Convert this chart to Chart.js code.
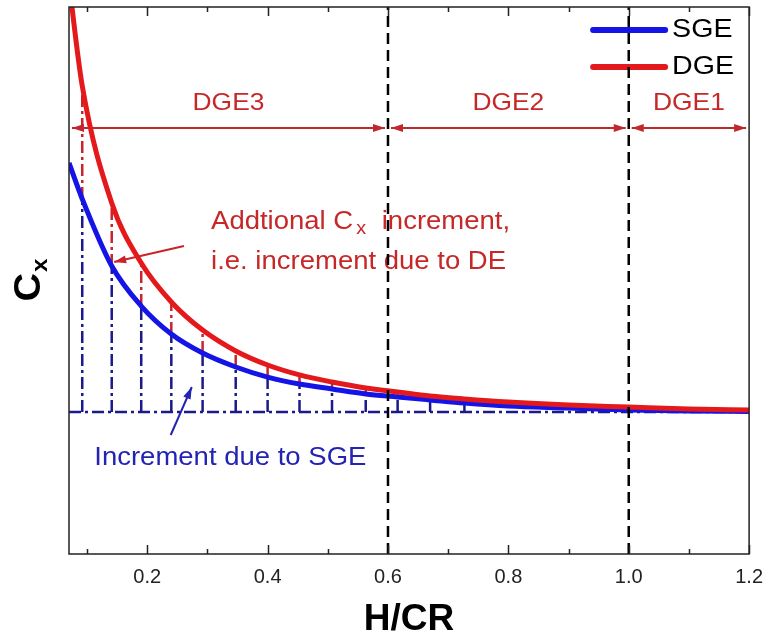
<!DOCTYPE html>
<html>
<head>
<meta charset="utf-8">
<title>Cx vs H/CR</title>
<script src="https://cdn.jsdelivr.net/npm/chart.js@4.4.1/dist/chart.umd.min.js"></script>
<style>
  html, body { margin: 0; padding: 0; background: #fff; }
  #wrap { width: 763px; height: 644px; }
</style>
</head>
<body>
<div id="wrap"><canvas id="cxChart" width="763" height="644"></canvas></div>
<script>
// H/CR sample points
const hcr = [0.07, 0.092, 0.141, 0.19, 0.24, 0.292, 0.347, 0.40, 0.453, 0.507, 0.563, 0.616, 0.67, 0.727, 0.80, 0.90, 1.0, 1.1, 1.2];
// Cx (baseline without ground effect = 1)
const sgeCx = [2.754, 2.5, 2.028, 1.746, 1.549, 1.415, 1.317, 1.246, 1.197, 1.162, 1.127, 1.106, 1.085, 1.063, 1.042, 1.028, 1.014, 1.007, 1.004];
const dgeCx = [4.021, 3.296, 2.472, 2.049, 1.775, 1.577, 1.43, 1.331, 1.261, 1.211, 1.169, 1.141, 1.113, 1.092, 1.07, 1.049, 1.035, 1.021, 1.014];
// which samples get the dash-dot increment markers
const markerIdx = [1, 2, 3, 4, 5, 6, 7, 8, 9, 10, 11, 12, 13];
const cxFree = 1.0;
const regionEdges = [0.07, 0.6, 1.0, 1.2];
const regionNames = ['DGE3', 'DGE2', 'DGE1'];
const boundaryLines = [0.6, 1.0];
const majorTicks = [0.2, 0.4, 0.6, 0.8, 1.0, 1.2];
const minorTicks = [0.1, 0.3, 0.5, 0.7, 0.9, 1.1];
const yMin = 0, yMax = 3.852;

const FONT = "'Liberation Sans', Arial, sans-serif";
const SX = 1.1; // the text in the picture is a bit wide
const RED = '#e4191c', BLUE = '#1414e6', NAVY = '#1a1a8c', TXTRED = '#c62828', TXTBLUE = '#2323b4';
const dashDot = [12, 4, 3, 4];

const pts = ys => hcr.map((x, i) => ({ x: x, y: ys[i] }));

const datasets = [
    { label: 'DGE', data: pts(dgeCx), borderColor: RED, borderWidth: 5, cubicInterpolationMode: 'monotone', order: 1 },
    { label: 'SGE', data: pts(sgeCx), borderColor: BLUE, borderWidth: 5, cubicInterpolationMode: 'monotone', order: 2 },
    { label: 'base', data: [{ x: regionEdges[0], y: cxFree }, { x: regionEdges[3], y: cxFree }], borderColor: NAVY, borderWidth: 2.5, borderDash: dashDot, order: 3 }
];
markerIdx.forEach(i => {
    datasets.push({ label: 'sgeInc', data: [{ x: hcr[i], y: cxFree }, { x: hcr[i], y: sgeCx[i] }], borderColor: NAVY, borderWidth: 2.5, borderDash: dashDot, order: 4 });
    datasets.push({ label: 'dgeInc', data: [{ x: hcr[i], y: sgeCx[i] }, { x: hcr[i], y: dgeCx[i] }], borderColor: '#c8242a', borderWidth: 2.5, borderDash: dashDot, order: 4 });
});
boundaryLines.forEach(x => {
    datasets.push({ label: 'edge', data: [{ x: x, y: yMin }, { x: x, y: yMax }], borderColor: '#000', borderWidth: 2.5, borderDash: [11, 6], order: 0 });
});
datasets.forEach(d => { d.showLine = true; d.pointRadius = 0; d.fill = false; });

function wideText(ctx, str, x, y, size, color, align, bold) {
    ctx.save();
    ctx.font = (bold ? 'bold ' : '') + size + 'px ' + FONT;
    ctx.fillStyle = color;
    ctx.textBaseline = 'middle';
    ctx.translate(x, y);
    ctx.scale(SX, 1);
    const w = ctx.measureText(str).width;
    ctx.fillText(str, align === 'center' ? -w / 2 : 0, 0);
    ctx.restore();
    return w * SX;
}

function arrowHead(ctx, x1, y1, x2, y2, len, half) {
    const a = Math.atan2(y2 - y1, x2 - x1);
    ctx.beginPath();
    ctx.moveTo(x2, y2);
    ctx.lineTo(x2 - len * Math.cos(a) + half * Math.sin(a), y2 - len * Math.sin(a) - half * Math.cos(a));
    ctx.lineTo(x2 - len * Math.cos(a) - half * Math.sin(a), y2 - len * Math.sin(a) + half * Math.cos(a));
    ctx.closePath();
    ctx.fill();
}

function arrow(ctx, x1, y1, x2, y2, color, both) {
    ctx.save();
    ctx.strokeStyle = color;
    ctx.fillStyle = color;
    ctx.lineWidth = 2;
    ctx.beginPath();
    ctx.moveTo(x1, y1);
    ctx.lineTo(x2, y2);
    ctx.stroke();
    arrowHead(ctx, x1, y1, x2, y2, 12, 4);
    if (both) arrowHead(ctx, x2, y2, x1, y1, 12, 4);
    ctx.restore();
}

const overlayPlugin = {
    id: 'overlay',
    beforeDatasetsDraw(chart) {
        const ctx = chart.ctx, xs = chart.scales.x, ys = chart.scales.y, area = chart.chartArea;

        // legend (dashed line at 1.0 runs over it)
        const leg = [{ name: 'SGE', color: BLUE }, { name: 'DGE', color: RED }];
        leg.forEach((l, i) => {
            const y = area.top + 23 + i * 37;
            ctx.save();
            ctx.strokeStyle = l.color;
            ctx.lineWidth = 6;
            ctx.lineCap = 'round';
            ctx.beginPath();
            ctx.moveTo(area.right - 156, y);
            ctx.lineTo(area.right - 84, y);
            ctx.stroke();
            ctx.restore();
            wideText(ctx, l.name, area.right - 77, y, 26, '#000', 'left');
        });

        // DGE regions
        const ay = ys.getPixelForValue(3.0);
        const ly = ys.getPixelForValue(3.17);
        regionNames.forEach((name, i) => {
            const x1 = xs.getPixelForValue(regionEdges[i]) + 3;
            const x2 = xs.getPixelForValue(regionEdges[i + 1]) - 3;
            arrow(ctx, x1, ay, x2, ay, '#c0282e', true);
            wideText(ctx, name, (x1 + x2) / 2, ly, 24, TXTRED, 'center');
        });

        // annotation: additional increment
        const tx = xs.getPixelForValue(0.306);
        let y1 = ys.getPixelForValue(2.338);
        let w = wideText(ctx, 'Addtional C', tx, y1, 25, TXTRED, 'left');
        w += 3;
        w += wideText(ctx, 'x', tx + w, y1 + 7, 18, TXTRED, 'left');
        w += 8;
        wideText(ctx, ' increment,', tx + w, y1, 25, TXTRED, 'left');
        wideText(ctx, 'i.e. increment due to DE', tx, ys.getPixelForValue(2.056), 25, TXTRED, 'left');
        arrow(ctx, xs.getPixelForValue(0.261), ys.getPixelForValue(2.169), xs.getPixelForValue(0.145), ys.getPixelForValue(2.056), '#c8242a', false);

        // annotation: SGE increment
        wideText(ctx, 'Increment due to SGE', xs.getPixelForValue(0.112), ys.getPixelForValue(0.676), 25, TXTBLUE, 'left');
        arrow(ctx, xs.getPixelForValue(0.239), ys.getPixelForValue(0.838), xs.getPixelForValue(0.274), ys.getPixelForValue(1.176), TXTBLUE, false);
    },
    afterDraw(chart) {
        const ctx = chart.ctx, xs = chart.scales.x, area = chart.chartArea;
        ctx.save();
        ctx.strokeStyle = '#222';
        ctx.lineWidth = 1.5;
        ctx.strokeRect(area.left, area.top, area.right - area.left, area.bottom - area.top);

        // inward ticks on top and bottom
        const tick = (v, len) => {
            const px = Math.round(xs.getPixelForValue(v)) + 0.5;
            ctx.beginPath();
            ctx.moveTo(px, area.bottom);
            ctx.lineTo(px, area.bottom - len);
            ctx.moveTo(px, area.top);
            ctx.lineTo(px, area.top + len);
            ctx.stroke();
        };
        majorTicks.forEach(v => tick(v, 9));
        minorTicks.forEach(v => tick(v, 5));
        ctx.restore();

        // y title: C with subscript x, rotated
        ctx.save();
        ctx.translate(40, 280);
        ctx.rotate(-Math.PI / 2);
        ctx.scale(SX, 1);
        ctx.fillStyle = '#000';
        ctx.textBaseline = 'alphabetic';
        ctx.font = 'bold 36px ' + FONT;
        const wc = ctx.measureText('C').width;
        ctx.font = 'bold 22px ' + FONT;
        const wx = ctx.measureText('x').width;
        const x0 = -(wc + wx + 1) / 2;
        ctx.font = 'bold 36px ' + FONT;
        ctx.fillText('C', x0, 0);
        ctx.font = 'bold 22px ' + FONT;
        ctx.fillText('x', x0 + wc + 1, 7);
        ctx.restore();
    }
};

function initializeCxChart() {
    const ctx = document.getElementById('cxChart').getContext('2d');
    new Chart(ctx, {
        type: 'scatter',
        data: { datasets: datasets },
        options: {
            responsive: false,
            animation: false,
            layout: { padding: { left: 69, right: 0, top: 7, bottom: 5 } },
            plugins: {
                legend: { display: false },
                tooltip: { enabled: false }
            },
            scales: {
                x: {
                    type: 'linear',
                    min: regionEdges[0],
                    max: regionEdges[3],
                    afterBuildTicks: axis => { axis.ticks = majorTicks.map(v => ({ value: v })); },
                    ticks: {
                        callback: v => v.toFixed(1),
                        // tall line box pushes the labels down without adding right-hand padding
                        font: { family: FONT, size: 20, lineHeight: 2.3 },
                        color: '#222',
                        padding: 0,
                        maxRotation: 0
                    },
                    grid: { display: false, drawTicks: false },
                    border: { display: false },
                    title: {
                        display: true,
                        text: 'H/CR',
                        color: '#000',
                        font: { family: FONT, size: 37, weight: 'bold', lineHeight: 1.054 },
                        padding: { top: 0, bottom: 0 }
                    }
                },
                y: {
                    type: 'linear',
                    min: yMin,
                    max: yMax,
                    display: false
                }
            }
        },
        plugins: [overlayPlugin]
    });
}

document.addEventListener('DOMContentLoaded', initializeCxChart);
</script>
</body>
</html>
